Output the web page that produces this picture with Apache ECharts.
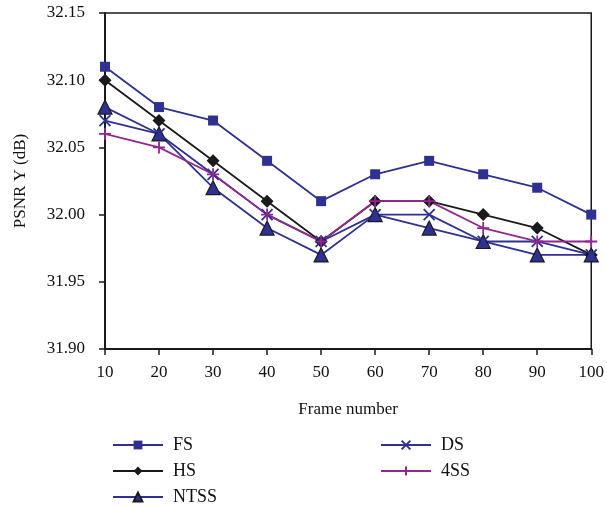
<!DOCTYPE html>
<html><head><meta charset="utf-8">
<script src="https://cdn.jsdelivr.net/npm/echarts@6/dist/echarts.min.js"></script>
<style>html,body{margin:0;padding:0;background:#fff}#c{width:607px;height:508px}</style>
</head><body><div id="c"></div>
<script>
const frames = [10, 20, 30, 40, 50, 60, 70, 80, 90, 100];
const fs   = [32.11, 32.08, 32.07, 32.04, 32.01, 32.03, 32.04, 32.03, 32.02, 32.00];
const hs   = [32.10, 32.07, 32.04, 32.01, 31.98, 32.01, 32.01, 32.00, 31.99, 31.97];
const ntss = [32.08, 32.06, 32.02, 31.99, 31.97, 32.00, 31.99, 31.98, 31.97, 31.97];
const ds   = [32.07, 32.06, 32.03, 32.00, 31.98, 32.00, 32.00, 31.98, 31.98, 31.97];
const fss  = [32.06, 32.05, 32.03, 32.00, 31.98, 32.01, 32.01, 31.99, 31.98, 31.98];
const yTicks = ['31.90','31.95','32.00','32.05','32.10','32.15'];

const BLUE = '#2E3192', PURPLE = '#92278F', BLACK = '#1a1a1a';
const FONT = '"Liberation Serif", "DejaVu Serif", serif';
const pair = arr => frames.map((f, i) => [f, arr[i]]);
function mk(name, data, color, symbol, size, extra) {
  return Object.assign({
    name, type: 'line', data: pair(data), symbol, symbolSize: size,
    lineStyle: { color, width: 1.8 },
    itemStyle: { color, borderColor: color, borderWidth: 0 },
    emphasis: { disabled: true }, animation: false, z: 3
  }, extra || {});
}
const X_PATH = 'path://M0,0L10,10M10,0L0,10';
const P_PATH = 'path://M5,0L5,10M0,5L10,5';
function leg(name, left, top) {
  return { orient: 'horizontal', left, top, itemWidth: 50, itemHeight: 11, data: [name],
    textStyle: { fontFamily: FONT, fontSize: 18, color: '#111', padding: [0, 0, 0, 5] } };
}

const chart = echarts.init(document.getElementById('c'), null, { renderer: 'canvas' });
chart.setOption({
  animation: false,
  textStyle: { fontFamily: FONT },
  grid: { left: 105, right: 14, top: 13, bottom: 159, show: true, borderColor: BLACK, borderWidth: 1.5 },
  xAxis: {
    type: 'value', min: 10, max: 100, interval: 10,
    name: 'Frame number', nameLocation: 'middle', nameGap: 52,
    nameTextStyle: { fontFamily: FONT, fontSize: 17, color: '#111' },
    axisLine: { show: true, lineStyle: { color: BLACK, width: 2 } },
    axisTick: { show: true, inside: false, length: 6, lineStyle: { color: BLACK, width: 1.5 } },
    axisLabel: { fontFamily: FONT, fontSize: 17, color: '#111', margin: 15 },
    splitLine: { show: false }
  },
  yAxis: {
    type: 'value', min: 31.90, max: 32.15, interval: 0.05,
    name: 'PSNR Y (dB)', nameLocation: 'middle', nameGap: 76, nameRotate: 90,
    nameTextStyle: { fontFamily: FONT, fontSize: 17, color: '#111' },
    axisLine: { show: true, lineStyle: { color: BLACK, width: 2 } },
    axisTick: { show: true, inside: false, length: 6, lineStyle: { color: BLACK, width: 1.5 } },
    axisLabel: { fontFamily: FONT, fontSize: 17, color: '#111', margin: 20,
      formatter: v => { const s = v.toFixed(2); return yTicks.includes(s) ? s : ''; } },
    splitLine: { show: false }
  },
  legend: [
    leg('FS', 107, 431), leg('HS', 107, 457), leg('NTSS', 107, 483),
    leg('DS', 375, 431), leg('4SS', 375, 457)
  ],
  series: [
    mk('FS', fs, BLUE, 'rect', 10),
    mk('HS', hs, BLACK, 'diamond', 13),
    mk('NTSS', ntss, BLUE, 'triangle', 14, { itemStyle: { color: BLUE, borderColor: BLACK, borderWidth: 1.2 } }),
    mk('DS', ds, BLUE, X_PATH, 11, { itemStyle: { color: BLUE, borderColor: BLUE, borderWidth: 1.8 } }),
    mk('4SS', fss, PURPLE, P_PATH, 12, { itemStyle: { color: PURPLE, borderColor: PURPLE, borderWidth: 1.8 } })
  ]
});
</script></body></html>
